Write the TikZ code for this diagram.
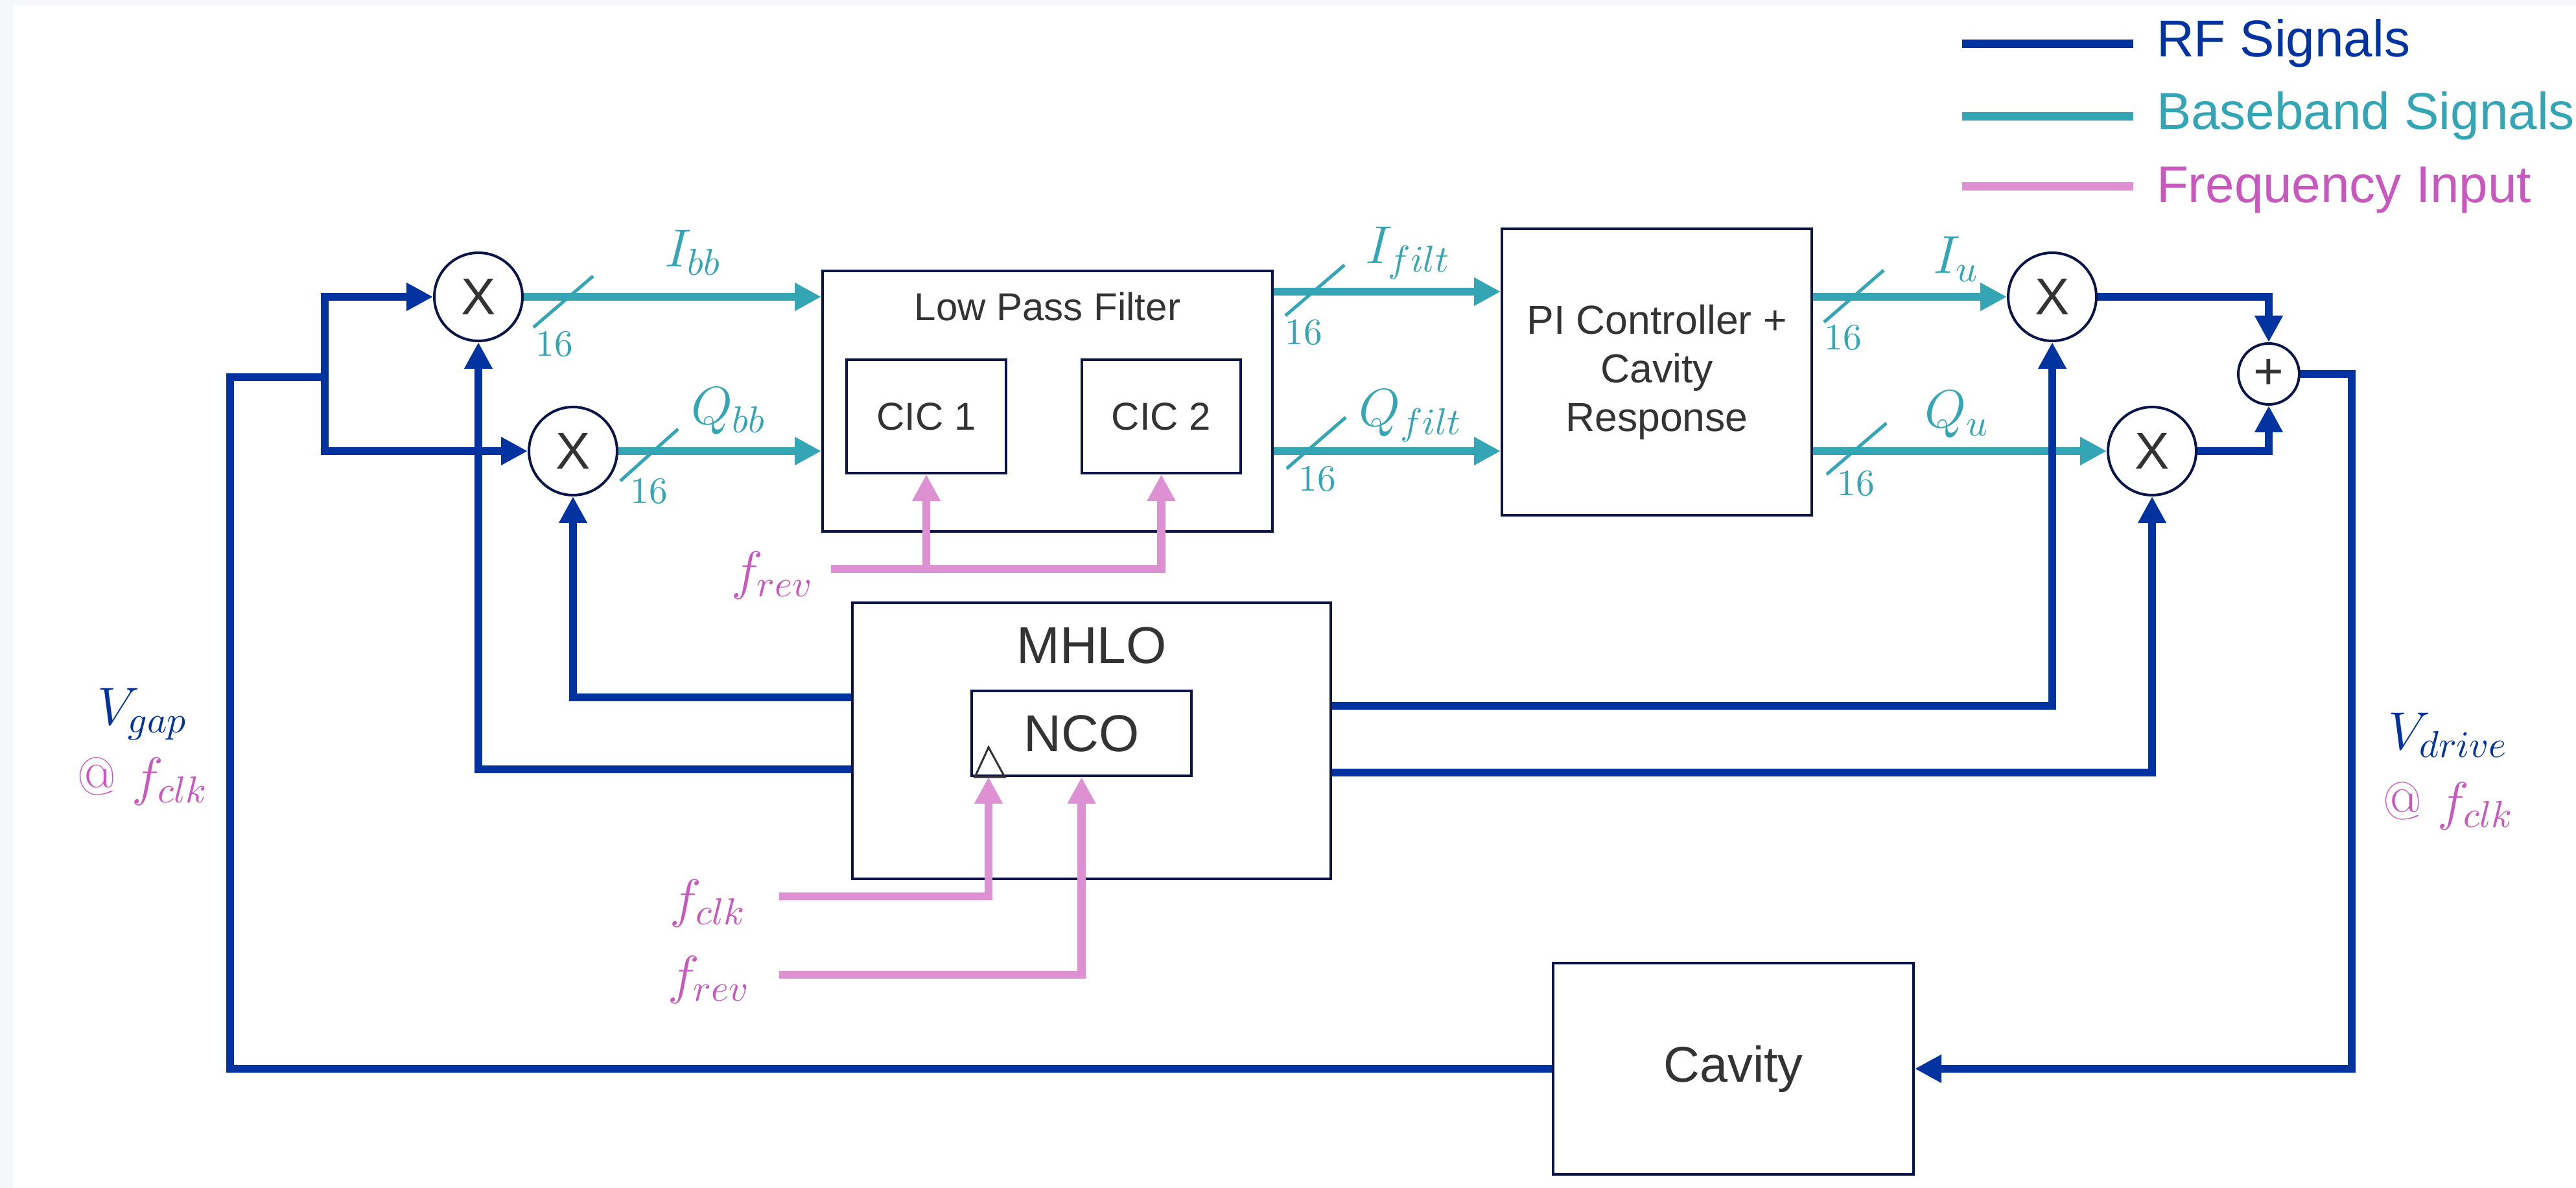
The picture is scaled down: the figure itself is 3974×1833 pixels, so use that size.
\RequirePackage{fix-cm}
\documentclass[tikz,border=0pt]{standalone}
\usepackage{fontspec}
\newfontfamily\arial{Liberation Sans}
\usetikzlibrary{arrows.meta,calc}
\definecolor{rf}{HTML}{0033A0}
\definecolor{bb}{HTML}{34A5B5}
\definecolor{pkl}{HTML}{DD91D3}
\definecolor{pkt}{HTML}{C858BE}
\definecolor{navy}{HTML}{0B1446}
\definecolor{txt}{HTML}{333333}
\definecolor{bgg}{HTML}{F5F7FB}
\begin{document}
\begin{tikzpicture}[x=0.2pt,y=-0.2pt,
  >={Triangle[length=8.2pt,width=8.2pt]},
  blk/.style={draw=navy,line width=0.8pt,inner sep=0pt,text=txt,font=\arial\fontsize{12}{15}\selectfont},
  mixer/.style={circle,draw=navy,line width=0.8pt,minimum size=27.2pt,inner sep=0pt,text=txt,font=\arial\fontsize{16}{19}\selectfont},
  boxlbl/.style={inner sep=0pt,anchor=base,text=txt},
  rfl/.style={draw=rf,line width=2.4pt},
  bbl/.style={draw=bb,line width=2.5pt},
  pkw/.style={draw=pkl,line width=2.5pt},
  bus/.style={draw=bb,line width=1pt},
  buslbl/.style={text=bb,font=\fontsize{11.5}{13}\selectfont,inner sep=0pt,anchor=base},
  sig/.style={text=bb,font=\fontsize{16.5}{19}\selectfont,inner sep=0pt,anchor=base west},
  frq/.style={text=pkt,font=\fontsize{16.5}{19}\selectfont,inner sep=0pt,anchor=east},
  legtxt/.style={font=\arial\fontsize{16}{19}\selectfont,inner sep=0pt,anchor=base west}
]
% background
\fill[bgg] (0,0) rectangle (3974,1833);
\fill[white] (21,9) rectangle (3974,1833);
\useasboundingbox (0,0) rectangle (3974,1833);

% legend
\coordinate (lg1a) at (3027,68);  \coordinate (lg1b) at (3291,68);
\coordinate (lg2a) at (3027,180); \coordinate (lg2b) at (3291,180);
\coordinate (lg3a) at (3027,288); \coordinate (lg3b) at (3291,288);
\draw[rf,line width=2.6pt] (lg1a) -- (lg1b);
\draw[bb,line width=2.6pt] (lg2a) -- (lg2b);
\draw[pkl,line width=2.6pt] (lg3a) -- (lg3b);
\node[legtxt,text=rf] (lt1) at (3326,88) {RF Signals};
\node[legtxt,text=bb] (lt2) at (3326,200) {Baseband Signals};
\node[legtxt,text=pkt] (lt3) at (3326,313) {Frequency Input};

% mixers and adder
\node[mixer] (X1) at (738,458) {X};
\node[mixer] (X2) at (884,696) {X};
\node[mixer] (X3) at (3166,458) {X};
\node[mixer] (X4) at (3320,696) {X};
\node[mixer,minimum size=18.8pt] (P) at (3500,577) {+};

% blocks
\node[blk,minimum width=138.8pt,minimum height=80.4pt] (LPF) at (1616,619) {};
\node[boxlbl,font=\arial\fontsize{12}{15}\selectfont] (LPFt) at (1616,495) {Low Pass Filter};
\node[blk,minimum width=49.2pt,minimum height=35pt] (C1) at (1429,642.5) {CIC 1};
\node[blk,minimum width=49pt,minimum height=35pt] (C2) at (1791.5,642.5) {CIC 2};
\node[blk,minimum width=95.6pt,minimum height=88.4pt,align=center,font=\arial\fontsize{12.5}{15}\selectfont] (PI) at (2556,574) {PI Controller +\\Cavity\\Response};
\node[blk,minimum width=147.6pt,minimum height=85.2pt] (MH) at (1684,1143) {};
\node[boxlbl,font=\arial\fontsize{16}{19}\selectfont] (MHt) at (1684,1024) {MHLO};
\node[blk,minimum width=67.8pt,minimum height=26.2pt,font=\arial\fontsize{16}{19}\selectfont] (NCO) at (1668.5,1131.5) {NCO};
\node[blk,minimum width=111.2pt,minimum height=65.2pt,font=\arial\fontsize{15.5}{19}\selectfont] (Cav) at (2674,1649) {Cavity};
\draw[txt,line width=0.6pt,line join=miter] ($(NCO.south west)+(7,0)$) -- ($(NCO.south west)+(28,-46)$) -- ($(NCO.south west)+(53,0)$) -- cycle;
\coordinate (clkin) at ($(NCO.south west)+(28,0)$);

% baseband connectors
\draw[bbl,->] (X1.east) -- (X1.east -| LPF.west);
\draw[bbl,->] (X2.east) -- (X2.east -| LPF.west);
\coordinate (lI) at ($(LPF.east)+(0,-169)$);
\coordinate (lQ) at ($(LPF.east)+(0,77)$);
\draw[bbl,->] (lI) -- (lI -| PI.west);
\draw[bbl,->] (lQ) -- (lQ -| PI.west);
\coordinate (pI) at ($(PI.east)+(0,-116)$);
\coordinate (pQ) at ($(PI.east)+(0,122)$);
\draw[bbl,->] (pI) -- (X3.west);
\draw[bbl,->] (pQ) -- (X4.west);

% bus slashes and widths
\draw[bus] (823,505) -- (915,426);
\draw[bus] (957,742) -- (1046,662);
\draw[bus] (1983,487) -- (2074,409);
\draw[bus] (1985,723) -- (2076,644);
\draw[bus] (2814,497) -- (2906,417);
\draw[bus] (2818,732) -- (2910,653);
\node[buslbl] (w1) at (855,550) {$16$};
\node[buslbl] (w2) at (1001,777) {$16$};
\node[buslbl] (w3) at (2011,532) {$16$};
\node[buslbl] (w4) at (2032,758) {$16$};
\node[buslbl] (w5) at (2843,540) {$16$};
\node[buslbl] (w6) at (2863,765) {$16$};

% signal names
\node[sig] (nIbb) at (1024,412) {$I_{bb}$};
\node[sig] (nQbb) at (1065,655) {$Q_{bb}$};
\node[sig] (nIf) at (2105,407) {$I_{filt}$};
\node[sig] (nQf) at (2095,658) {$Q_{filt}$};
\node[sig] (nIu) at (2981,422) {$I_u$};
\node[sig] (nQu) at (2968,660) {$Q_u$};

% frequency inputs
\node[frq] (fr1t) at (1256,888) {$f_{rev}$};
\node[frq] (fct) at (1152,1394) {$f_{clk}$};
\node[frq] (fr2t) at (1158,1512) {$f_{rev}$};
\coordinate (fr1) at (1282,878);
\coordinate (fc) at (1202,1383);
\coordinate (fr2) at (1202,1504);
\draw[pkw,->] (fr1) -| (C2.south);
\draw[pkw,->] (C1.south |- fr1) -- (C1.south);
\draw[pkw,->] (fc) -| (clkin);
\draw[pkw,->] (fr2) -| (NCO.south);

% RF connectors
\coordinate (jn) at (501,582);
\coordinate (gl) at (355,582);
\draw[rfl] (Cav.west) -| (gl) -- (jn);
\draw[rfl,->] (jn) |- (X1.west);
\draw[rfl,->] (jn) |- (X2.west);
\draw[rfl,->] ($(MH.west)+(0,-67)$) -| (X2.south);
\draw[rfl,->] ($(MH.west)+(0,44)$) -| (X1.south);
\draw[rfl,->] ($(MH.east)+(0,-54)$) -| (X3.south);
\draw[rfl,->] ($(MH.east)+(0,49)$) -| (X4.south);
\draw[rfl,->] (X3.east) -| (P.north);
\draw[rfl,->] (X4.east) -| (P.south);
\coordinate (rc) at (3628,1649);
\draw[rfl,->] (P.east) -| (rc) -- (Cav.east);

% voltage labels
\node[align=center,inner sep=0pt,font=\fontsize{16.5}{21.6}\selectfont] (vg) at (220,1152) {\textcolor{rf}{$V_{gap}$}\\\textcolor{pkt}{@ $f_{clk}$}};
\node[align=center,inner sep=0pt,font=\fontsize{16.5}{21.6}\selectfont] (vd) at (3777,1190) {\textcolor{rf}{$V_{drive}$}\\\textcolor{pkt}{@ $f_{clk}$}};
\end{tikzpicture}
\end{document}
